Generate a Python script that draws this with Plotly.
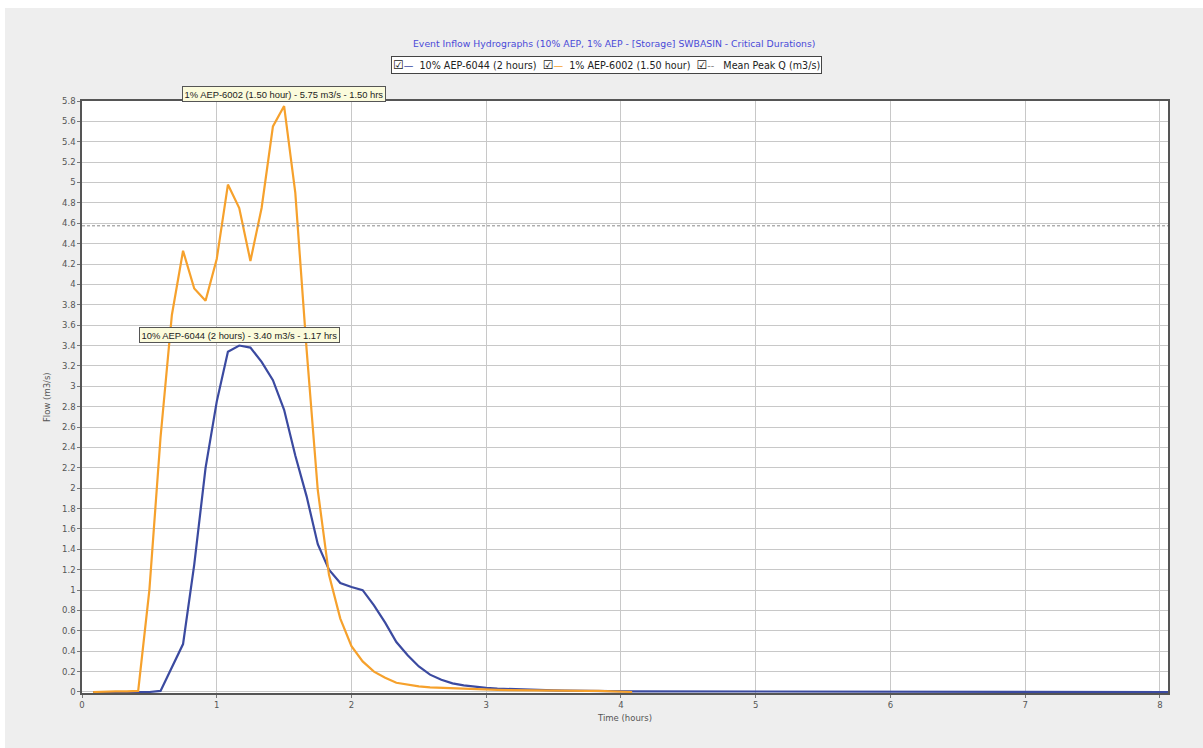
import plotly.graph_objects as go

# Time steps (hours) shared by both hydrographs
time_h = [0.083, 0.167, 0.25, 0.333, 0.417, 0.5, 0.583, 0.667, 0.75, 0.833,
          0.917, 1.0, 1.083, 1.167, 1.25, 1.333, 1.417, 1.5, 1.583, 1.667,
          1.75, 1.833, 1.917, 2.0, 2.083, 2.167, 2.25, 2.333, 2.417, 2.5,
          2.583, 2.667, 2.75, 2.833, 2.917, 3.0, 3.083, 3.167, 3.25, 3.333,
          3.417, 3.5, 3.583, 3.667, 3.75, 3.833, 3.917, 4.0, 4.083]

# 1% AEP-6002 (1.50 hour) inflow, m3/s
flow_1pct = [0.0, 0.005, 0.005, 0.005, 0.01, 1.0, 2.5, 3.7, 4.33, 3.96,
             3.84, 4.25, 4.98, 4.75, 4.23, 4.75, 5.55, 5.75, 4.9, 3.36,
             1.98, 1.15, 0.72, 0.45, 0.3, 0.2, 0.14, 0.09, 0.07, 0.055,
             0.045, 0.04, 0.035, 0.03, 0.025, 0.022, 0.02, 0.018, 0.016, 0.015,
             0.014, 0.013, 0.012, 0.011, 0.01, 0.01, 0.009, 0.008, 0.0]

# 10% AEP-6044 (2 hours) inflow, m3/s (runs on to the end of the simulation)
time_10pct = time_h + [8.083]
flow_10pct = [0.0, 0.0, 0.0, 0.0, 0.0, 0.0, 0.01, 0.25, 0.47, 1.25,
              2.2, 2.85, 3.34, 3.40, 3.38, 3.24, 3.06, 2.77, 2.32, 1.92,
              1.45, 1.2, 1.07, 1.03, 1.0, 0.85, 0.68, 0.49, 0.36, 0.25,
              0.17, 0.12, 0.085, 0.065, 0.05, 0.04, 0.033, 0.028, 0.024, 0.02,
              0.017, 0.015, 0.013, 0.011, 0.01, 0.009, 0.008, 0.007, 0.006, 0.0]

series_names = ["10% AEP-6044 (2 hours)", "1% AEP-6002 (1.50 hour)", "Mean Peak Q (m3/s)"]
peak_q = [3.40, 5.75]
peak_t = [1.17, 1.50]
mean_peak_q = 4.575
x_span = [0.0, 8.06]

BLUE = "#3b4aa0"
ORANGE = "#f6a12c"
GREY_DASH = "#8a8a8a"

fig = go.Figure()

fig.add_trace(go.Scatter(x=time_10pct, y=flow_10pct, mode="lines", name=series_names[0],
                         line=dict(color=BLUE, width=2.2)))
fig.add_trace(go.Scatter(x=time_h, y=flow_1pct, mode="lines", name=series_names[1],
                         line=dict(color=ORANGE, width=2.2)))
fig.add_trace(go.Scatter(x=x_span, y=[mean_peak_q, mean_peak_q], mode="lines", name=series_names[2],
                         line=dict(color=GREY_DASH, width=1, dash="3px,2px")))

# Peak call-outs
tip_font = dict(family="Liberation Sans, Arial, sans-serif", size=9.4, color="#222")
fig.add_annotation(x=peak_t[1], y=peak_q[1], xref="x", yref="y",
                   text=f"{series_names[1]} - {peak_q[1]:.2f} m3/s - {peak_t[1]:.2f} hrs",
                   showarrow=False, yanchor="bottom", yshift=4,
                   bgcolor="#fbfbdc", bordercolor="#555555", borderwidth=1, borderpad=1.5,
                   font=tip_font)
fig.add_annotation(x=peak_t[0], y=peak_q[0], xref="x", yref="y",
                   text=f"{series_names[0]} - {peak_q[0]:.2f} m3/s - {peak_t[0]:.2f} hrs",
                   showarrow=False, yanchor="bottom", yshift=3,
                   bgcolor="#fbfbdc", bordercolor="#555555", borderwidth=1, borderpad=1.5,
                   font=tip_font)

# Title
fig.add_annotation(x=0.4899, y=1.0963, xref="paper", yref="paper",
                   text="Event Inflow Hydrographs (10% AEP, 1% AEP - [Storage] SWBASIN - Critical Durations)",
                   showarrow=False, xanchor="center", yanchor="middle",
                   font=dict(family="DejaVu Sans, Verdana, sans-serif", size=9.3, color="#4a4ad8"))

# Legend row with check boxes
box = "<span style='font-size:12px'>☑</span>"
legend_text = (
    f"{box}<span style='color:{BLUE}'>—</span>  {series_names[0]}  "
    f"{box}<span style='color:{ORANGE}'>—</span>  {series_names[1]}  "
    f"{box}<span style='color:{GREY_DASH}'>--</span>   {series_names[2]}"
)
fig.add_annotation(x=0.4834, y=1.0608, xref="paper", yref="paper", text=legend_text,
                   showarrow=False, xanchor="center", yanchor="middle",
                   bgcolor="#ffffff", bordercolor="#444444", borderwidth=1, borderpad=1,
                   font=dict(family="DejaVu Sans, Verdana, sans-serif", size=9.6, color="#222"))

# Axis titles
axis_font = dict(family="DejaVu Sans, Verdana, sans-serif", size=8.5, color="#555")
fig.add_annotation(x=-0.0322, y=0.5, xref="paper", yref="paper", text="Flow (m3/s)",
                   textangle=-90, showarrow=False, xanchor="center", yanchor="middle",
                   font=axis_font)

# Light grey canvas behind the chart, leaving a thin white edge at top-left
fig.add_shape(type="rect", xref="paper", yref="paper",
              x0=-0.0709, x1=1.04, y0=-0.1, y1=1.157,
              fillcolor="#eeeeee", line=dict(width=0), layer="below")
fig.add_shape(type="rect", xref="paper", yref="paper",
              x0=0, x1=1, y0=0, y1=1,
              fillcolor="#ffffff", line=dict(width=0), layer="below")

fig.update_layout(
    width=1203, height=748,
    margin=dict(l=82, r=35, t=101, b=55),
    paper_bgcolor="#ffffff",
    plot_bgcolor="rgba(0,0,0,0)",
    showlegend=False,
    font=axis_font,
    xaxis=dict(
        range=x_span, dtick=1, tick0=0,
        showgrid=True, gridcolor="#c8c8c8", gridwidth=1,
        showline=True, linecolor="#555555", linewidth=1.5, mirror=True,
        ticks="outside", ticklen=3, tickcolor="#777",
        zeroline=False, tickfont=axis_font,
        title=dict(text="Time (hours)", font=axis_font, standoff=6),
    ),
    yaxis=dict(
        range=[-0.01, 5.8], dtick=0.2, tick0=0,
        showgrid=True, gridcolor="#c8c8c8", gridwidth=1,
        showline=True, linecolor="#555555", linewidth=1.5, mirror=True,
        ticks="outside", ticklen=3, tickcolor="#777",
        zeroline=False, tickfont=axis_font,
    ),
)

fig.write_html("out.html")
